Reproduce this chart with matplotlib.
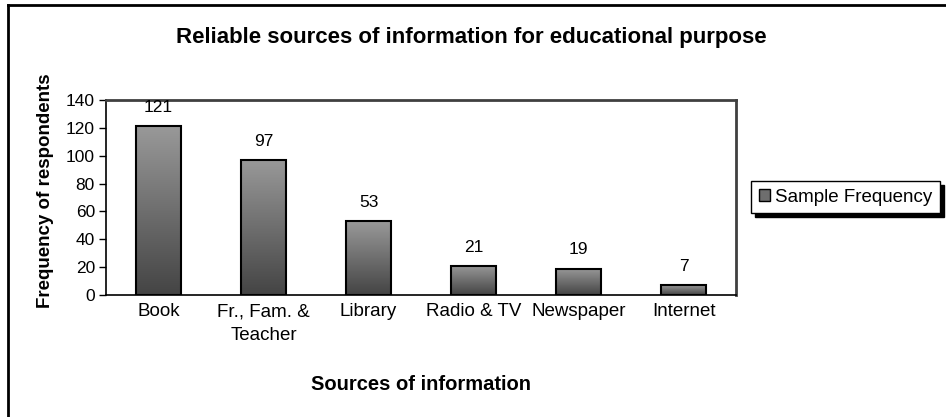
import matplotlib
matplotlib.use("Agg")
import matplotlib.pyplot as plt
import numpy as np
from matplotlib.colors import LinearSegmentedColormap
from matplotlib.patches import Rectangle
from matplotlib.lines import Line2D

categories = ["Book", "Fr., Fam. &\nTeacher", "Library", "Radio & TV", "Newspaper", "Internet"]
values = [121, 97, 53, 21, 19, 7]
yticks = [0, 20, 40, 60, 80, 100, 120, 140]
series_name = "Sample Frequency"

plt.rcParams['font.family'] = ['Liberation Sans', 'DejaVu Sans']

W, H = 946, 417
fig = plt.figure(figsize=(W/100, H/100), dpi=100)
ax = fig.add_axes([106/W, 1-295/H, (736-106)/W, (295-100)/H])

cmap = LinearSegmentedColormap.from_list("g", ["#444444", "#999999"])
x = np.arange(len(categories))
bars = ax.bar(x, values, width=0.42, color="none", edgecolor="black", linewidth=1.5, zorder=3)
grad = np.linspace(0, 1, 256).reshape(-1, 1)
for b in bars:
    x0, y0 = b.get_x(), b.get_y()
    w, h = b.get_width(), b.get_height()
    im = ax.imshow(grad, extent=[x0, x0+w, y0, y0+h], origin="lower", aspect="auto",
                   cmap=cmap, zorder=2)
    im.set_clip_path(b)

for xi, v in zip(x, values):
    ax.annotate(str(v), (xi, v), xytext=(0, 8), textcoords="offset points",
                ha="center", va="bottom", fontsize=12.5)

ax.set_xlim(-0.5, len(categories)-0.5)
ax.set_ylim(0, 140)
ax.set_yticks(yticks)
ax.set_xticks(x)
ax.set_xticklabels(categories, fontsize=13.5, linespacing=1.55)
ax.tick_params(axis="x", length=0, pad=6)
ax.tick_params(axis="y", direction="out", length=5, width=1, labelsize=12.5, pad=3)
for s in ["top", "right"]:
    ax.spines[s].set_color("#404040")
    ax.spines[s].set_linewidth(2)
for s in ["left", "bottom"]:
    ax.spines[s].set_color("black")
    ax.spines[s].set_linewidth(1.2)

ax.set_xlabel("Sources of information", fontsize=14.5, fontweight="bold", labelpad=22)
ax.set_ylabel("Frequency of respondents", fontsize=13.5, fontweight="bold")
ax.yaxis.set_label_coords((54-106)/630, (295-191)/195)

fig.text(471/W, 1-38/H, "Reliable sources of information for educational purpose",
         ha="center", va="center", fontsize=16, fontweight="bold")

handle = Rectangle((0, 0), 1, 1, facecolor="#6e6e6e", edgecolor="black", linewidth=1)
leg = fig.legend([handle], [series_name], loc="upper left",
                 bbox_to_anchor=(751/W, 1-181/H), fontsize=13.5,
                 frameon=True, fancybox=False, shadow={'color': 'black', 'alpha': 1, 'ox': 3, 'oy': -3},
                 handlelength=0.6, handleheight=0.6, handletextpad=0.3,
                 borderpad=0.4, borderaxespad=0)
leg.get_frame().set_edgecolor("black")
leg.get_frame().set_linewidth(1)

# outer chart border (top & left visible)
fig.add_artist(Line2D([8/W, 1], [1-5/H, 1-5/H], color="black", linewidth=2))
fig.add_artist(Line2D([8/W, 8/W], [0, 1-5/H], color="black", linewidth=2))

fig.savefig("out.png", dpi=100)
